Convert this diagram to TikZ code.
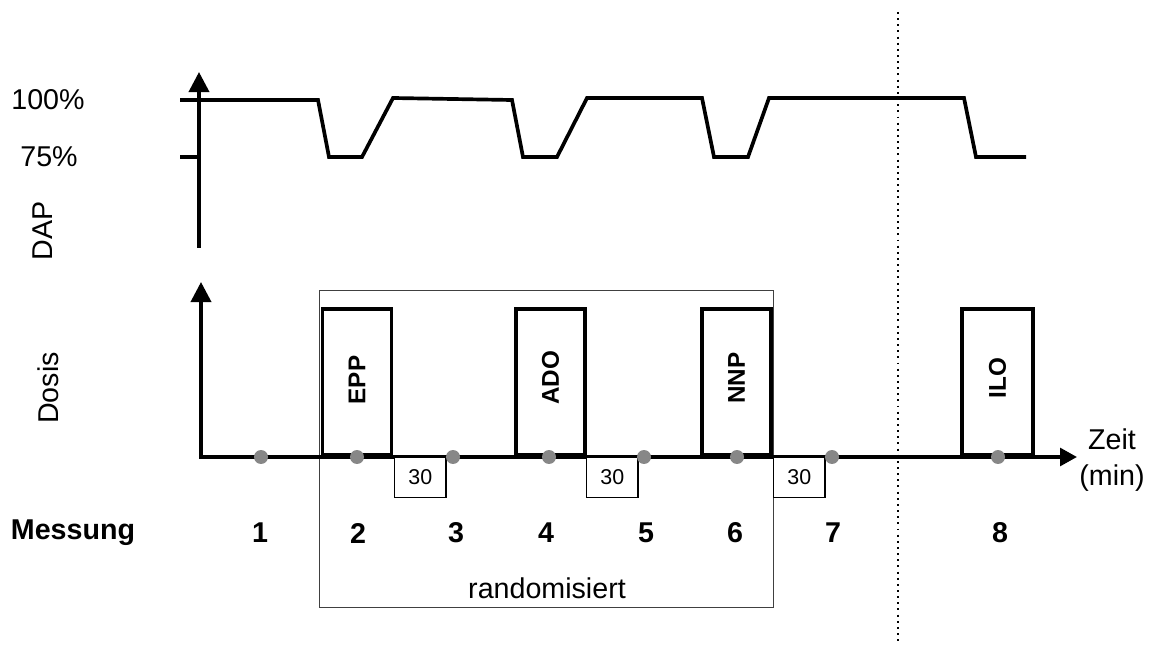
\documentclass[tikz,border=0pt]{standalone}
\usepackage{fontspec}
\setmainfont{Liberation Sans}
\usetikzlibrary{arrows.meta}
\begin{document}
\begin{tikzpicture}[x=0.02cm, y=-0.02cm,
  lbl/.style={font=\fontsize{16.3}{20.4}\selectfont, inner sep=0pt},
  blbl/.style={font=\fontsize{16.3}{20.4}\selectfont\bfseries, inner sep=0pt},
  drug/.style={font=\fontsize{13.8}{16}\selectfont\bfseries, rotate=90, inner sep=0pt},
  dosebox/.style={draw, line width=2.2pt, minimum width=1.38cm, minimum height=2.92cm, inner sep=0pt, anchor=south},
  waitbox/.style={draw, line width=0.6pt, fill=white, minimum width=1.03cm, minimum height=0.8cm, inner sep=0pt, anchor=north west, font=\fontsize{12.2}{14}\selectfont},
  dot/.style={circle, fill=black!47, minimum size=0.28cm, inner sep=0pt},
  axis/.style={line width=2.1pt, line join=miter},
  curve/.style={line width=2.1pt, line join=miter},
  uptip/.style={-{Triangle[length=11.5pt,width=11.5pt]}},
  dotline/.style={line width=1.1pt, dash pattern=on 1.1pt off 2.4pt}
]
\useasboundingbox (0,0) rectangle (1150,645);

% randomised frame
\node[draw=black!75, line width=0.75pt, minimum width=9.08cm, minimum height=6.34cm, anchor=north west, inner sep=0pt] (rand) at (319,290) {};
\node[lbl] (randtxt) at (547,588) {randomisiert};

% dotted separator
\coordinate (dtop) at (898,12);
\coordinate (dbot) at (898,641);
\draw[dotline] (dtop) -- (dbot);

% upper axis (DAP)
\coordinate (uo) at (199,248);
\coordinate (ut) at (199,72);
\draw[axis, uptip] (uo) -- (ut);
\coordinate (t75a) at (180,157);
\coordinate (t75b) at (199,157);
\draw[axis] (t75a) -- (t75b);
\node[lbl] (p100) at (48,100) {100\%};
\node[lbl] (p75) at (49,157) {75\%};
\node[lbl, rotate=90] (dap) at (43,231) {DAP};

% DAP curve
\draw[curve] (180,100) -- (318,100) -- (329,157) -- (362,157) -- (393,98)
  -- (512,100) -- (523,157) -- (557,157) -- (587,98)
  -- (702,98) -- (714,157) -- (748,157) -- (769,98)
  -- (964,98) -- (976,157) -- (1026,157);

% lower axis (Dosis)
\coordinate (lt) at (201,282);
\coordinate (lo) at (201,457);
\coordinate (rt) at (1077,457);
\draw[axis, {Triangle[length=11.5pt,width=11.5pt]}-{Triangle[length=9.6pt,width=10pt]}] (lt) -- (lo) -- (rt);
\node[lbl, rotate=90] (dosis) at (48,388) {Dosis};
\node[lbl, align=center] (zeit) at (1112,460) {Zeit\\(min)};

% dose boxes
\node[dosebox] (eppbox) at (357,457) {};
\node[dosebox] (adobox) at (550.5,457) {};
\node[dosebox] (nnpbox) at (736.5,457) {};
\node[dosebox, minimum width=1.42cm] (ilobox) at (997.5,457) {};
\node[drug] (epp) at (357,380) {EPP};
\node[drug] (ado) at (550.5,378) {ADO};
\node[drug] (nnp) at (736.5,378) {NNP};
\node[drug] (ilo) at (997.5,378) {ILO};

% wait boxes
\node[waitbox] (w1) at (394,457) {30};
\node[waitbox] (w2) at (586,457) {30};
\node[waitbox] (w3) at (773,457) {30};

% measurement dots
\node[dot] (d1) at (261,457) {};
\node[dot] (d2) at (357,457) {};
\node[dot] (d3) at (453,457) {};
\node[dot] (d4) at (549,457) {};
\node[dot] (d5) at (644,457) {};
\node[dot] (d6) at (737,457) {};
\node[dot] (d7) at (832,457) {};
\node[dot] (d8) at (998,457) {};

% measurement labels
\node[blbl] (mess) at (73,533) {Messung};
\node[blbl] (n1) at (260,533) {1};
\node[blbl] (n2) at (358,533) {2};
\node[blbl] (n3) at (456,533) {3};
\node[blbl] (n4) at (546,533) {4};
\node[blbl] (n5) at (646,533) {5};
\node[blbl] (n6) at (735,533) {6};
\node[blbl] (n7) at (833,533) {7};
\node[blbl] (n8) at (1000,533) {8};
\end{tikzpicture}
\end{document}
